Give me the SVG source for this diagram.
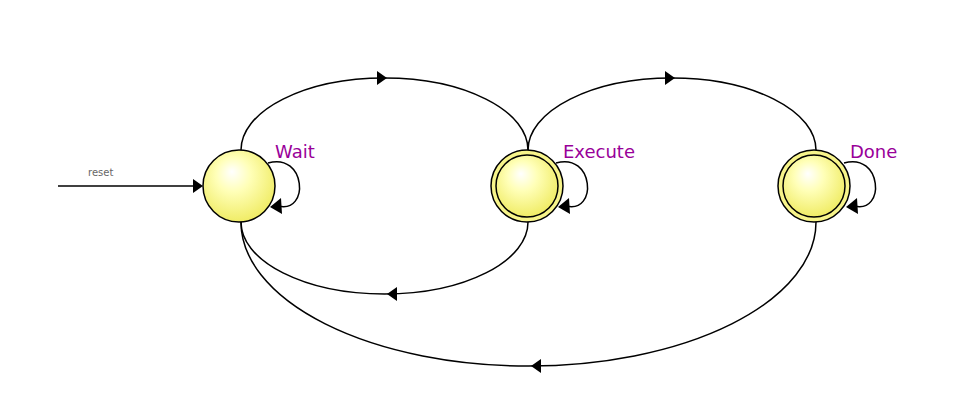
<svg xmlns="http://www.w3.org/2000/svg" width="955" height="417" viewBox="0 0 955 417">
<defs>
<radialGradient id="g" cx="45%" cy="40%" r="60%" fx="40%" fy="30%">
<stop offset="0" stop-color="#ffffff"/>
<stop offset="0.4" stop-color="#ffffb8"/>
<stop offset="1" stop-color="#f0ec66"/>
</radialGradient>
<style>
.st{fill:url(#g);stroke:#000;stroke-width:1.5}
.ring{fill:#f7f48a;stroke:#000;stroke-width:1.5}
.ln{fill:none;stroke:#000;stroke-width:1.5}
.ah{fill:#000}
.lbl{font-family:"DejaVu Sans",sans-serif;font-size:18px;fill:#990099}
.sm{font-family:"DejaVu Sans",sans-serif;font-size:10px;fill:#666}
</style>
</defs>
<rect width="955" height="417" fill="#fff"/>
<g id="connectors">
<path class="ln" d="M241,150 A143.5,72 0 0 1 528,150"/>
<polygon class="ah" points="377,71 387,78 377,85"/>
<path class="ln" d="M528,150 A144,72 0 0 1 816,150"/>
<polygon class="ah" points="665,71 675,78 665,85"/>
<path class="ln" d="M528,222 A143.5,72 0 0 1 241,222"/>
<polygon class="ah" points="397,287 387,294 397,301"/>
<path class="ln" d="M816,222 A287.5,144 0 0 1 241,222"/>
<polygon class="ah" points="541,359 531,366 541,373"/>
<path class="ln" d="M58,186 H196"/>
<polygon class="ah" points="193,179 203,186 193,193"/>
<path class="ln" d="M268,163 C306,152 310,214 278,206"/>
<polygon class="ah" points="281,198 270,207 282,214"/>
<path class="ln" d="M556,163 C594,152 598,214 566,206"/>
<polygon class="ah" points="569,198 558,207 570,214"/>
<path class="ln" d="M844,163 C882,152 886,214 854,206"/>
<polygon class="ah" points="857,198 846,207 858,214"/>
<text class="sm" x="88" y="176">reset</text>
</g>
<g id="wait">
<circle class="st" cx="239" cy="186" r="36"/>
<text class="lbl" x="275" y="158">Wait</text>
</g>
<g id="execute">
<circle class="ring" cx="527" cy="186" r="36"/>
<circle class="st" cx="527" cy="186" r="31"/>
<text class="lbl" x="563" y="158">Execute</text>
</g>
<g id="done">
<circle class="ring" cx="814" cy="186" r="36"/>
<circle class="st" cx="814" cy="186" r="31"/>
<text class="lbl" x="850" y="158">Done</text>
</g>
</svg>
